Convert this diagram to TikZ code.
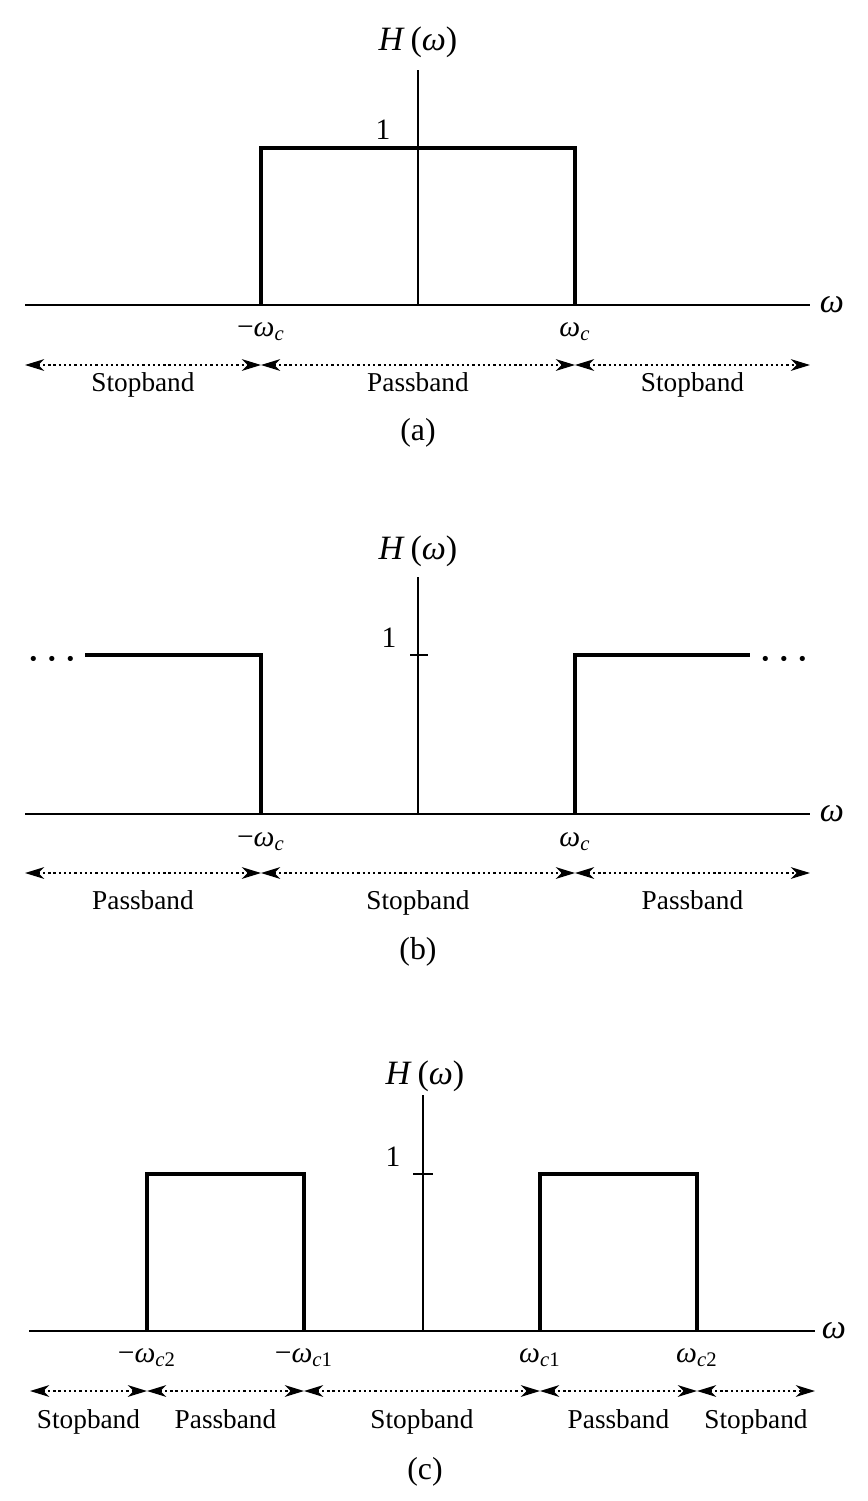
\documentclass[tikz,border=0pt]{standalone}
\usepackage{fontspec}
\setmainfont{Liberation Serif}
\usetikzlibrary{arrows.meta, positioning}

\newcommand{\om}{\textit{ω}}
\newcommand{\wc}[1]{\om\textsubscript{\textit{c}#1}}

\begin{document}
\begin{tikzpicture}[x=0.44pt, y=-0.44pt,
        axis/.style={line width=0.7pt},
        resp/.style={line width=1.4pt},
        band/.style={{Stealth[length=8.5pt,width=5.2pt,inset=2.6pt]}-{Stealth[length=8.5pt,width=5.2pt,inset=2.6pt]}, line width=0.6pt, dash pattern=on 1pt off 1.3pt},
        bandlbl/.style={midway, anchor=base, yshift=-#1, font=\fontsize{12}{14}\selectfont},
        axlbl/.style={font=\fontsize{15}{18}\selectfont},
        cutlbl/.style={font=\fontsize{13}{15}\selectfont},
        caplbl/.style={font=\fontsize{14}{16}\selectfont},
        dots/.style={anchor=base, font=\fontsize{14}{16}\selectfont\bfseries}]
    \useasboundingbox (0,0) rectangle (867,1501);

    % (a) lowpass
    \coordinate (aL) at (25,305);
    \coordinate (aR) at (810,305);
    \coordinate (a0) at (418,305);
    \coordinate (aT) at (418,70);
    \coordinate (a1) at (261,305);
    \coordinate (a2) at (575,305);
    \node[axlbl] (Ha) at (418,42) {\textit{H}\,(\om)};
    \node[axlbl] (wa) at (832,305) {\om};
    \node[cutlbl] (onea) at (383,130) {1};
    \node[cutlbl] (ca1) at (261,332) {−\wc{}};
    \node[cutlbl] (ca2) at (575,332) {\wc{}};
    \draw[line width=1.1pt] (aL) -- (aR);
    \draw[axis] (a0) -- (aT);
    \draw[resp] (a1) -- ++(0,-157) -| (a2);

    \coordinate (sa0) at (25,365);
    \coordinate (sa1) at (261,365);
    \coordinate (sa2) at (575,365);
    \coordinate (sa3) at (810,365);
    \path (sa0) edge[band] node[bandlbl=11.6pt] {Stopband} (sa1);
    \path (sa1) edge[band] node[bandlbl=11.6pt] {Passband} (sa2);
    \path (sa2) edge[band] node[bandlbl=11.6pt] {Stopband} (sa3);
    \node[caplbl] (capa) at (418,433) {(a)};

    % (b) highpass
    \coordinate (bL) at (25,814);
    \coordinate (bR) at (810,814);
    \coordinate (b0) at (418,814);
    \coordinate (bT) at (418,577);
    \coordinate (b1) at (261,814);
    \coordinate (b2) at (575,814);
    \node[axlbl] (Hb) at (418,551) {\textit{H}\,(\om)};
    \node[axlbl] (wb) at (832,814) {\om};
    \node[cutlbl] (oneb) at (389,638) {1};
    \node[cutlbl] (cb1) at (261,842) {−\wc{}};
    \node[cutlbl] (cb2) at (575,842) {\wc{}};
    \draw[axis] (bL) -- (bR);
    \draw[axis] (b0) -- (bT);
    \draw[axis] (410,655) -- (428,655);
    \draw[resp] (85,655) -- (261,655) -- (b1);
    \draw[resp] (b2) -- (575,655) -- (750,655);
    \node[dots] (dl) at (52,669) {· · ·};
    \node[dots] (dr) at (784,669) {· · ·};

    \coordinate (sb0) at (25,873);
    \coordinate (sb1) at (261,873);
    \coordinate (sb2) at (575,873);
    \coordinate (sb3) at (810,873);
    \path (sb0) edge[band] node[bandlbl=16pt] {Passband} (sb1);
    \path (sb1) edge[band] node[bandlbl=16pt] {Stopband} (sb2);
    \path (sb2) edge[band] node[bandlbl=16pt] {Passband} (sb3);
    \node[caplbl] (capb) at (418,952) {(b)};

    % (c) bandpass
    \coordinate (cL) at (29,1331);
    \coordinate (cR) at (815,1331);
    \coordinate (c0) at (423,1331);
    \coordinate (cT) at (423,1095);
    \node[axlbl] (Hc) at (425,1076) {\textit{H}\,(\om)};
    \node[axlbl] (wc) at (834,1331) {\om};
    \node[cutlbl] (onec) at (393,1157) {1};
    \node[cutlbl] (cc1) at (147,1358) {−\wc{2}};
    \node[cutlbl] (cc2) at (304,1358) {−\wc{1}};
    \node[cutlbl] (cc3) at (540,1358) {\wc{1}};
    \node[cutlbl] (cc4) at (697,1358) {\wc{2}};
    \draw[axis] (cL) -- (cR);
    \draw[axis] (c0) -- (cT);
    \draw[axis] (413,1174) -- (433,1174);
    \draw[resp] (147,1331) -- (147,1174) -- (304,1174) -- (304,1331);
    \draw[resp] (540,1331) -- (540,1174) -- (697,1174) -- (697,1331);

    \coordinate (sc0) at (30,1391);
    \coordinate (sc1) at (147,1391);
    \coordinate (sc2) at (304,1391);
    \coordinate (sc3) at (540,1391);
    \coordinate (sc4) at (697,1391);
    \coordinate (sc5) at (815,1391);
    \path (sc0) edge[band] node[bandlbl=16.4pt] {Stopband} (sc1);
    \path (sc1) edge[band] node[bandlbl=16.4pt] {Passband} (sc2);
    \path (sc2) edge[band] node[bandlbl=16.4pt] {Stopband} (sc3);
    \path (sc3) edge[band] node[bandlbl=16.4pt] {Passband} (sc4);
    \path (sc4) edge[band] node[bandlbl=16.4pt] {Stopband} (sc5);
    \node[caplbl] (capc) at (425,1472) {(c)};
\end{tikzpicture}
\end{document}
